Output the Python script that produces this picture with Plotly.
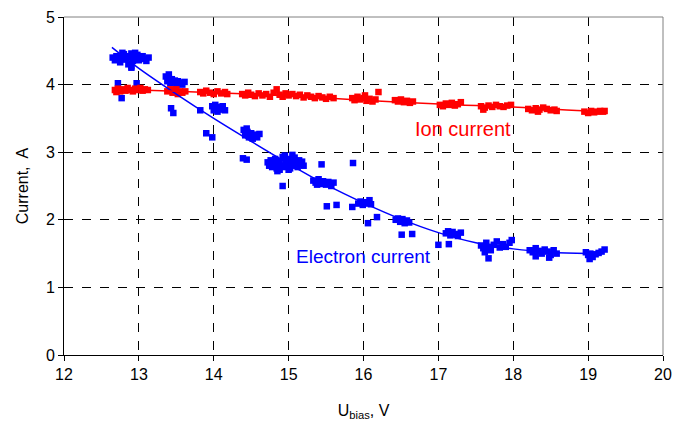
import plotly.graph_objects as go

# ---- data ----
electron_x = [
    12.65, 12.68, 12.70, 12.72, 12.75, 12.77, 12.80, 12.82, 12.84, 12.86, 12.88, 12.90, 12.92, 12.94,
    12.96, 12.98, 13.00, 13.02, 13.05, 13.08, 13.10, 13.13, 12.90, 12.78, 12.95,
    12.72, 12.97, 12.77, 12.90,
    13.36, 13.38, 13.40, 13.42, 13.44, 13.46, 13.48, 13.50, 13.52, 13.55, 13.58, 13.61, 13.40,
    13.43, 13.46,
    13.98, 14.00, 14.03, 14.05, 14.07, 14.10, 14.12, 14.15, 14.02,
    13.82, 13.90, 13.98,
    14.40, 14.42, 14.45, 14.47, 14.50, 14.52, 14.55, 14.58, 14.61, 14.44,
    14.39, 14.44,
    14.72, 14.74, 14.76, 14.78, 14.80, 14.82, 14.84, 14.86, 14.88, 14.90, 14.92, 14.94, 14.96, 14.98,
    15.00, 15.02, 15.04, 15.06, 15.08, 15.10, 15.12, 15.14, 15.16, 15.18, 15.20, 14.85, 14.95, 15.05,
    14.88, 15.00,
    14.92, 15.44, 15.86,
    15.33, 15.36, 15.40, 15.43, 15.46, 15.50, 15.53, 15.57, 15.60, 15.38,
    15.51, 15.64, 15.85,
    15.93, 15.96, 15.99, 16.02, 16.05, 16.08, 16.10,
    16.06, 16.18,
    16.43, 16.46, 16.49, 16.52, 16.55, 16.58, 16.61,
    16.51, 16.65,
    17.10, 17.13, 17.16, 17.19, 17.22, 17.26, 17.30,
    17.00, 17.14,
    17.57, 17.60, 17.64, 17.67, 17.70, 17.74, 17.78, 17.82, 17.86, 17.90, 17.95, 17.98, 17.62,
    17.67,
    18.22, 18.26, 18.30, 18.34, 18.38, 18.42, 18.46, 18.50, 18.54, 18.58, 18.30, 18.48,
    18.97, 19.00, 19.03, 19.06, 19.10, 19.14, 19.18, 19.22, 19.02,
]
electron_y = [
    4.40, 4.36, 4.42, 4.38, 4.33, 4.40, 4.45, 4.37, 4.42, 4.30, 4.40, 4.46, 4.35, 4.41,
    4.38, 4.44, 4.36, 4.40, 4.42, 4.38, 4.35, 4.40, 4.27, 4.47, 4.47,
    4.02, 4.02, 3.80, 4.25,
    4.12, 4.05, 4.10, 4.02, 4.08, 4.04, 4.06, 4.00, 4.05, 4.03, 4.00, 4.04, 4.15,
    3.65, 3.58,
    3.68, 3.62, 3.66, 3.60, 3.67, 3.63, 3.68, 3.62, 3.70,
    3.62, 3.28, 3.22,
    3.33, 3.25, 3.30, 3.22, 3.28, 3.20, 3.26, 3.22, 3.27, 3.35,
    2.91, 2.89,
    2.85, 2.80, 2.88, 2.78, 2.84, 2.90, 2.76, 2.82, 2.87, 2.80, 2.93, 2.78, 2.85, 2.82,
    2.90, 2.76, 2.86, 2.80, 2.92, 2.84, 2.78, 2.88, 2.82, 2.86, 2.80, 2.72, 2.95, 2.96,
    2.74, 2.74,
    2.50, 2.82, 2.84,
    2.58, 2.55, 2.60, 2.53, 2.57, 2.52, 2.56, 2.50, 2.55, 2.52,
    2.20, 2.22, 2.19,
    2.24, 2.27, 2.22, 2.26, 2.24, 2.29, 2.23,
    1.95, 2.04,
    2.00, 2.02, 1.97, 2.01, 1.95, 1.99, 1.96,
    1.78, 1.79,
    1.80, 1.83, 1.77, 1.82, 1.79, 1.76, 1.81,
    1.63, 1.64,
    1.62, 1.58, 1.66, 1.60, 1.55, 1.63, 1.68, 1.59, 1.64, 1.60, 1.66, 1.70, 1.52,
    1.43,
    1.55, 1.52, 1.58, 1.54, 1.50, 1.56, 1.53, 1.48, 1.55, 1.50, 1.46, 1.44,
    1.52, 1.48, 1.50, 1.45, 1.49, 1.51, 1.53, 1.56, 1.42,
]

ion_x = [
    12.68, 12.72, 12.75, 12.78, 12.82, 12.85, 12.88, 12.92, 12.95, 12.98, 13.02, 13.05, 13.08, 13.12, 12.70,
    13.38, 13.42, 13.45, 13.48, 13.52, 13.55, 13.58, 13.62, 13.50,
    13.82, 13.86, 13.90, 13.95, 14.00, 14.05, 14.10, 14.15, 14.18,
    14.38, 14.42, 14.46, 14.50, 14.55, 14.60, 14.65, 14.70, 14.75, 14.80, 14.84, 14.88, 14.92, 14.96,
    15.00, 15.05, 15.10, 15.15, 15.20, 15.25, 15.30, 15.35, 15.40, 15.45, 15.50, 15.55, 15.60,
    15.85, 15.88, 15.92, 15.95, 16.00, 16.04, 16.08, 16.12, 16.16, 16.20, 16.02,
    16.42, 16.46, 16.50, 16.54, 16.58, 16.62, 16.66,
    17.02, 17.06, 17.10, 17.14, 17.18, 17.22, 17.26, 17.30,
    17.57, 17.62, 17.67, 17.72, 17.77, 17.82, 17.87, 17.92, 17.97, 17.60,
    18.20, 18.25, 18.30, 18.35, 18.40, 18.45, 18.50, 18.55, 18.58, 18.33,
    18.95, 19.00, 19.04, 19.08, 19.12, 19.16, 19.20, 19.22,
]
ion_y = [
    3.92, 3.94, 3.90, 3.93, 3.91, 3.95, 3.92, 3.90, 3.94, 3.92, 3.95, 3.91, 3.93, 3.92, 3.89,
    3.90, 3.93, 3.88, 3.91, 3.86, 3.90, 3.88, 3.90, 3.93,
    3.89, 3.87, 3.91, 3.88, 3.86, 3.90, 3.87, 3.89, 3.86,
    3.86, 3.84, 3.88, 3.85, 3.83, 3.87, 3.84, 3.86, 3.82, 3.88, 3.93, 3.85, 3.82, 3.87,
    3.84, 3.86, 3.83, 3.85, 3.81, 3.84, 3.82, 3.80, 3.83, 3.81, 3.79, 3.82, 3.80,
    3.80, 3.77, 3.82, 3.78, 3.80, 3.76, 3.79, 3.75, 3.78, 3.89, 3.84,
    3.77, 3.75, 3.78, 3.74, 3.76, 3.73, 3.75,
    3.70, 3.68, 3.72, 3.70, 3.73, 3.69, 3.71, 3.74,
    3.68, 3.66, 3.69, 3.67, 3.70, 3.68, 3.67, 3.69, 3.70, 3.63,
    3.64, 3.62, 3.65, 3.63, 3.66, 3.64, 3.62, 3.63, 3.61, 3.60,
    3.60, 3.58, 3.61, 3.59, 3.60, 3.61, 3.60, 3.61,
]

# trend lines
electron_fit_x = [12.64, 13.0, 13.5, 14.0, 14.5, 15.0, 15.5, 16.0, 16.5, 17.0, 17.5, 18.0, 18.5, 19.0]
electron_fit_y = [4.55, 4.24, 3.86, 3.50, 3.16, 2.83, 2.52, 2.25, 2.01, 1.81, 1.66, 1.57, 1.52, 1.50]
ion_fit_x = [12.7, 13.5, 14.7, 15.5, 16.5, 17.3, 18.0, 18.6, 19.2]
ion_fit_y = [3.93, 3.90, 3.85, 3.80, 3.74, 3.70, 3.67, 3.63, 3.60]

x_ticks = [12, 13, 14, 15, 16, 17, 18, 19, 20]
y_ticks = [0, 1, 2, 3, 4, 5]

BLUE = "#0000FF"
RED = "#FF0000"
FONT = "Liberation Sans, Arial, sans-serif"

fig = go.Figure()
fig.add_trace(go.Scatter(x=electron_x, y=electron_y, mode="markers",
                         marker=dict(symbol="square", size=6.5, color=BLUE, line=dict(width=0)),
                         showlegend=False))
fig.add_trace(go.Scatter(x=ion_x, y=ion_y, mode="markers",
                         marker=dict(symbol="square", size=6.5, color=RED, line=dict(width=0)),
                         showlegend=False))
fig.add_trace(go.Scatter(x=electron_fit_x, y=electron_fit_y, mode="lines",
                         line=dict(color=BLUE, width=1.5, shape="spline"), showlegend=False))
fig.add_trace(go.Scatter(x=ion_fit_x, y=ion_fit_y, mode="lines",
                         line=dict(color=RED, width=1.5, shape="spline"), showlegend=False))

fig.add_annotation(x=17.33, y=3.34, text="Ion current", showarrow=False,
                   font=dict(family=FONT, size=20, color=RED))
fig.add_annotation(x=16.0, y=1.46, text="Electron current", showarrow=False,
                   font=dict(family=FONT, size=19, color=BLUE))

# gray top/right border
fig.add_shape(type="line", xref="x domain", yref="y domain", x0=0, x1=1, y0=1, y1=1,
              line=dict(color="#808080", width=1))
fig.add_shape(type="line", xref="x domain", yref="y domain", x0=1, x1=1, y0=0, y1=1,
              line=dict(color="#808080", width=1))

fig.update_xaxes(range=[12, 20], tickvals=x_ticks, ticktext=[str(v) for v in x_ticks],
                 showline=True, linecolor="black", linewidth=1,
                 ticks="outside", ticklen=5, tickcolor="black",
                 showgrid=True, gridcolor="black", griddash="dash", gridwidth=1,
                 zeroline=False, automargin=False,
                 tickfont=dict(family=FONT, size=16, color="black"),
                 title=dict(text="U<sub>bias</sub>, V", font=dict(family=FONT, size=16, color="black"),
                            standoff=22))
fig.update_yaxes(range=[0, 5], tickvals=y_ticks, ticktext=[str(v) for v in y_ticks],
                 showline=True, linecolor="black", linewidth=1,
                 ticks="outside", ticklen=5, tickcolor="black",
                 showgrid=True, gridcolor="black", griddash="dash", gridwidth=1,
                 zeroline=False, automargin=False,
                 tickfont=dict(family=FONT, size=16, color="black"),
                 title=dict(text="Current,  A", font=dict(family=FONT, size=16, color="black"),
                            standoff=13))

fig.update_layout(width=675, height=423, margin=dict(l=64, r=12, t=17, b=68),
                  plot_bgcolor="white", paper_bgcolor="white")

fig.write_html("out.html")
